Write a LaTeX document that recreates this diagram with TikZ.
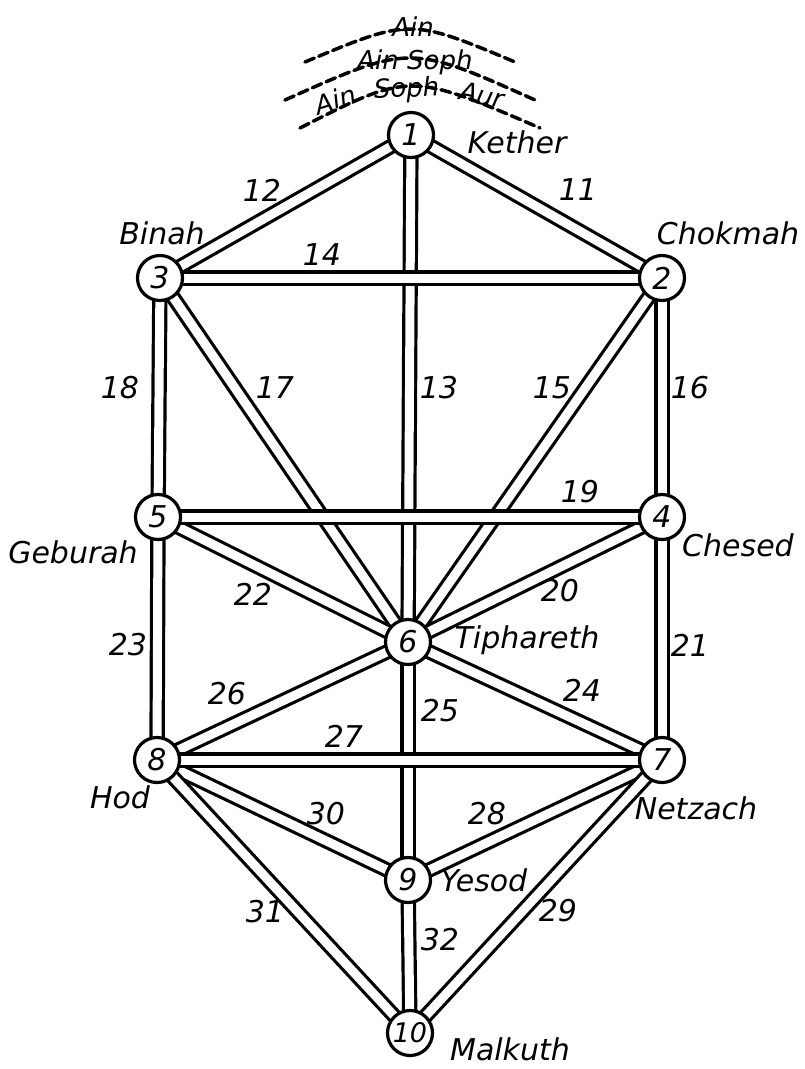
\documentclass[tikz,border=0pt]{standalone}
\usepackage{fontspec}
\setmainfont{DejaVu Sans}
\begin{document}
\begin{tikzpicture}[x=1pt,y=-1pt,
  pth/.style={draw=black, double=white, double distance=9pt, line width=3.2pt},
  sef/.style={circle, draw, line width=3.2pt, fill=white, minimum size=45pt, inner sep=0pt, font=\fontsize{30}{30}\selectfont\itshape},
  lab/.style={font=\fontsize{30}{30}\selectfont\itshape, inner sep=0pt},
  num/.style={font=\fontsize{30}{30}\selectfont\itshape, inner sep=0pt},
  veil/.style={font=\fontsize{26}{26}\selectfont\itshape, inner sep=0pt},
  arcd/.style={line width=3.5pt, dash pattern=on 10pt off 5pt, line cap=round}]
\fill[white] (0,0) rectangle (804,1069);
\useasboundingbox (0,0) rectangle (804,1069);
% sephiroth positions
\coordinate (c1) at (411,135);
\coordinate (c2) at (662,278);
\coordinate (c3) at (160,278);
\coordinate (c4) at (662,517);
\coordinate (c5) at (158,517);
\coordinate (c6) at (408,642);
\coordinate (c7) at (662,760);
\coordinate (c8) at (157,760);
\coordinate (c9) at (408,880);
\coordinate (c10) at (410,1033);
% paths
\draw[pth] (c1) -- (c2);
\draw[pth] (c1) -- (c3);
\draw[pth] (c2) -- (c4);
\draw[pth] (c3) -- (c5);
\draw[pth] (c2) -- (c6);
\draw[pth] (c3) -- (c6);
\draw[pth] (c4) -- (c6);
\draw[pth] (c5) -- (c6);
\draw[pth] (c4) -- (c7);
\draw[pth] (c5) -- (c8);
\draw[pth] (c6) -- (c7);
\draw[pth] (c6) -- (c8);
\draw[pth] (c7) -- (c9);
\draw[pth] (c8) -- (c9);
\draw[pth] (c7) -- (c10);
\draw[pth] (c8) -- (c10);
\draw[pth] (c9) -- (c10);
\draw[pth] (c6) -- (c9);
\draw[pth] (c1) -- (c6);
\draw[pth] (c2) -- (c3);
\draw[pth] (c4) -- (c5);
\draw[pth] (c7) -- (c8);
% sephiroth
\node[sef] (n1) at (c1) {1};
\node[sef] (n2) at (c2) {2};
\node[sef] (n3) at (c3) {3};
\node[sef] (n4) at (c4) {4};
\node[sef] (n5) at (c5) {5};
\node[sef] (n6) at (c6) {6};
\node[sef] (n7) at (c7) {7};
\node[sef] (n8) at (c8) {8};
\node[sef] (n9) at (c9) {9};
\node[sef, font=\fontsize{27}{27}\selectfont\itshape] (n10) at (c10) {10};
% names
\node[lab] (l1) at (517,142) {Kether};
\node[lab] (l2) at (728,233) {Chokmah};
\node[lab] (l3) at (162,233) {Binah};
\node[lab] (l4) at (738,545) {Chesed};
\node[lab] (l5) at (73,552) {Geburah};
\node[lab] (l6) at (527,640) {Tiphareth};
\node[lab] (l7) at (696,808) {Netzach};
\node[lab] (l8) at (120,797) {Hod};
\node[lab] (l9) at (484,880) {Yesod};
\node[lab] (l10) at (510,1049) {Malkuth};
% path numbers
\node[num] (p11) at (578,190) {11};
\node[num] (p12) at (262,190) {12};
\node[num] (p13) at (439,388) {13};
\node[num] (p14) at (322,255) {14};
\node[num] (p15) at (552,388) {15};
\node[num] (p16) at (690,388) {16};
\node[num] (p17) at (275,388) {17};
\node[num] (p18) at (120,388) {18};
\node[num] (p19) at (580,492) {19};
\node[num] (p20) at (560,591) {20};
\node[num] (p21) at (690,645) {21};
\node[num] (p22) at (253,594) {22};
\node[num] (p23) at (128,645) {23};
\node[num] (p24) at (582,690) {24};
\node[num] (p25) at (440,711) {25};
\node[num] (p26) at (227,694) {26};
\node[num] (p27) at (344,736) {27};
\node[num] (p28) at (487,814) {28};
\node[num] (p29) at (558,911) {29};
\node[num] (p30) at (326,814) {30};
\node[num] (p31) at (265,912) {31};
\node[num] (p32) at (440,940) {32};
% veils
\draw[arcd] (305,62) .. controls (410,18) .. (515,62);
\draw[arcd] (285,100) .. controls (410,44) .. (535,100);
\draw[arcd] (300,128) .. controls (410,72) .. (540,128);
\node[veil, anchor=base] (ain) at (413,36) {Ain};
\node[veil, anchor=base] (ainsoph) at (415,69) {Ain Soph};
\node[veil, anchor=base, rotate=17] (aur1) at (338,109) {Ain};
\node[veil, anchor=base, rotate=3] (aur2) at (407,97) {Soph};
\node[veil, anchor=base, rotate=-12] (aur3) at (480,104) {Aur};
\end{tikzpicture}
\end{document}
